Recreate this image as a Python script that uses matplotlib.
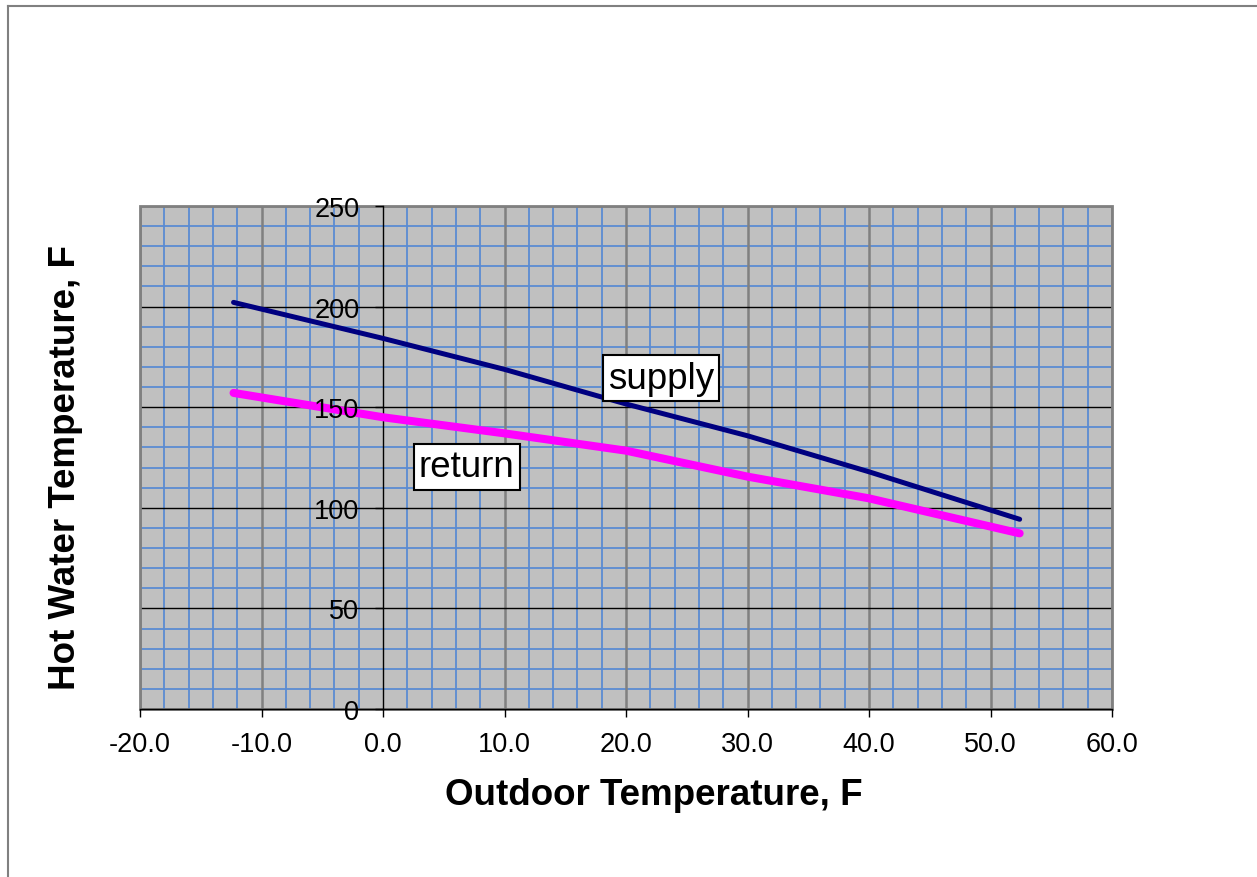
import numpy as np
import matplotlib.pyplot as plt
from matplotlib.ticker import MultipleLocator, FormatStrFormatter
from matplotlib.patches import Rectangle
from matplotlib.lines import Line2D

plt.rcParams['font.family'] = ['Liberation Sans', 'DejaVu Sans']

# data
outdoor = [-12.3, 0.0, 10.0, 20.0, 30.0, 40.0, 52.4]
supply = [202.1, 184.2, 168.8, 151.6, 135.8, 117.9, 94.3]
ret = [157.1, 145.0, 137.0, 128.4, 115.5, 104.7, 87.3]

fig = plt.figure(figsize=(12.57, 8.78), dpi=100)
ax = fig.add_axes([140/1257, 1 - 710/878, (1112-140)/1257, (710-207)/878])
ax.set_facecolor('#C0C0C0')

ax.set_xlim(-20, 60)
ax.set_ylim(0, 250)
ax.xaxis.set_major_locator(MultipleLocator(10))
ax.yaxis.set_major_locator(MultipleLocator(50))
ax.xaxis.set_major_formatter(FormatStrFormatter('%.1f'))

# grid drawn by hand so the tick labels can sit on top of it
blue = '#5B8BD2'
xs = np.arange(-20, 61, 2)
ys = np.arange(0, 251, 10)
ax.vlines([v for v in xs if v % 10], 0, 250, color=blue, lw=1.3, zorder=0.5)
ax.hlines([v for v in ys if v % 50], -20, 60, color=blue, lw=1.3, zorder=0.5)
ax.vlines([v for v in xs if v % 10 == 0 and v != 0], 0, 250, color='#808080', lw=1.8, zorder=0.6)
ax.hlines([v for v in ys if v % 50 == 0 and v != 0], -20, 60, color='black', lw=1.0, zorder=0.6)

# axes: y axis crosses at x=0
for s in ['top', 'right']:
    ax.spines[s].set_visible(False)
ax.spines['left'].set_position(('data', 0))
ax.spines['left'].set_color('black')
ax.spines['left'].set_linewidth(1.0)
ax.spines['bottom'].set_color('black')
ax.spines['bottom'].set_linewidth(1.0)
ax.add_patch(Rectangle((0, 0), 1, 1, transform=ax.transAxes, fill=False,
                       edgecolor='#808080', lw=2, zorder=1, clip_on=False))

ax.tick_params(which='major', direction='out', length=6, width=1, color='black',
               labelsize=19.5)
ax.tick_params(axis='y', pad=11)
ax.tick_params(axis='x', pad=10)
ax.xaxis.set_zorder(4)
ax.yaxis.set_zorder(4)

ax.plot(outdoor, supply, color='#000080', lw=3.6, solid_capstyle='round', zorder=3)
ax.plot(outdoor, ret, color='#FF00FF', lw=5.8, solid_capstyle='round', zorder=3)

box = dict(boxstyle='square,pad=0.14', facecolor='white', edgecolor='black', lw=1.5)
ax.text(22.9, 164.5, 'supply', fontsize=26.5, ha='center', va='center', bbox=box, zorder=5)
ax.text(6.9, 120.3, 'return', fontsize=26.5, ha='center', va='center', bbox=box, zorder=5)

fig.text(654/1257, 1 - 796/878, 'Outdoor Temperature, F', fontsize=26.5,
         fontweight='bold', ha='center', va='center')
fig.text(66/1257, 1 - 468/878, 'Hot Water Temperature, F', fontsize=26.5,
         fontweight='bold', ha='center', va='center', rotation=90)

# outer chart frame (top and left edges)
fig.add_artist(Line2D([8/1257, 1], [1 - 7/878, 1 - 7/878], color='#808080', lw=1.5))
fig.add_artist(Line2D([8/1257, 8/1257], [0, 1 - 7/878], color='#808080', lw=1.5))

plt.savefig('out.png')
